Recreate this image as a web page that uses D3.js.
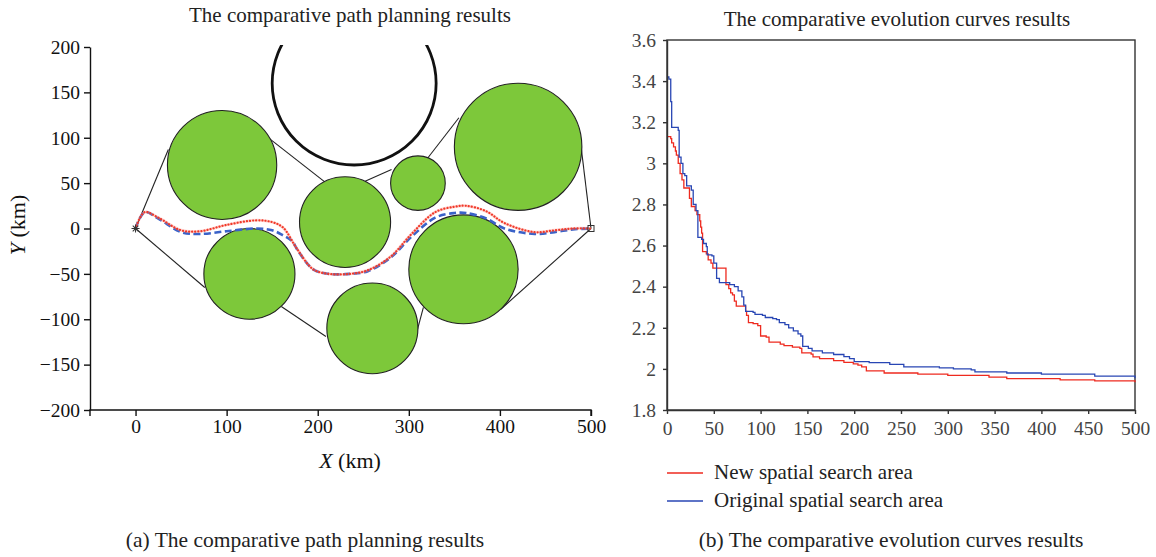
<!DOCTYPE html>
<html><head><meta charset="utf-8">
<script src="https://cdn.jsdelivr.net/npm/d3@7"></script>
<style>
html,body{margin:0;padding:0;background:#fff;}
svg{display:block;font-family:"Liberation Serif","DejaVu Serif",serif;}
</style></head>
<body><svg id="c" width="1156" height="557"></svg>
<script>
// ---------- data: left chart (path planning, km) ----------
const xTicksL = [0,100,200,300,400,500];
const yTicksL = [-200,-150,-100,-50,0,50,100,150,200];
// green threat circles: centre x, centre y, radius
const obstacleX = [95, 230, 310, 420, 125, 360, 260];
const obstacleY = [70, 7, 50, 90, -50, -45, -110];
const obstacleR = [60, 50, 30, 70, 50, 60, 50];
// open (black ring) threat
const ringX = [240], ringY = [160], ringR = [90];
// search-area boundary segments [x1,y1,x2,y2]
const boundary = [
  [0,0,36,87],[147,99,207,52],[252,52,281,65],[321,78,355,122],
  [489,91,500,0],[500,0,401,-89],[316,-87,308,-117],[209,-119,160,-86],[76,-65,0,0]
];
const newPath = [[0,0],[10,18],[25,12],[50,-2],[71,-3],[100,4],[133,9],[150,7],[162,1],[177,-22],[195,-45],[212,-50],[235,-50],[255,-46],[280,-31],[303,-6],[329,18],[350,24],[363,25],[385,19],[405,6],[438,-4],[460,-2],[480,0],[500,0]];
const origPath = [[0,0],[10,18],[25,11],[50,-4],[71,-6],[100,-3],[133,0],[150,-2],[161,-7],[172,-14],[178,-24],[195,-45],[212,-50],[235,-50],[255,-47],[280,-32],[303,-9],[329,12],[350,17],[363,17],[385,11],[405,0],[438,-6],[460,-4],[480,-1],[500,0]];

// ---------- data: right chart (evolution curves) ----------
const xTicksR = [0,50,100,150,200,250,300,350,400,450,500];
const yTicksR = [1.8,2,2.2,2.4,2.6,2.8,3,3.2,3.4,3.6];
const newGen = [0,4,5,7,9,10,12,14,16,18,24,26,30,32,35,36,37,38,42,44,47,49,63,66,68,70,72,74,84,85,87,92,97,100,106,109,121,125,134,142,144,154,156,163,178,189,199,204,208,213,232,268,300,344,363,420,457,500];
const newFit = [3.13,3.12,3.10,3.08,3.06,3.04,3.00,2.95,2.92,2.88,2.83,2.79,2.77,2.75,2.72,2.69,2.66,2.57,2.56,2.53,2.515,2.49,2.41,2.39,2.37,2.36,2.33,2.305,2.28,2.26,2.225,2.22,2.21,2.16,2.155,2.13,2.12,2.113,2.106,2.10,2.078,2.072,2.058,2.05,2.04,2.032,2.024,2.018,2.01,1.99,1.98,1.975,1.968,1.96,1.953,1.947,1.942,1.935];
const origGen = [0,2,4,5,12,13,15,17,19,21,26,28,31,33,37,39,42,43,48,50,53,56,67,72,76,80,82,84,92,94,102,105,113,117,120,126,130,135,140,143,145,151,155,166,178,189,195,200,216,238,253,291,306,325,329,363,400,457,500];
const origFit = [3.42,3.41,3.30,3.175,3.16,3.03,3.00,2.95,2.94,2.89,2.87,2.80,2.77,2.64,2.63,2.61,2.595,2.555,2.55,2.515,2.44,2.42,2.41,2.40,2.38,2.35,2.31,2.28,2.275,2.265,2.26,2.25,2.245,2.24,2.225,2.215,2.20,2.185,2.17,2.16,2.11,2.10,2.088,2.078,2.07,2.06,2.05,2.035,2.03,2.022,2.01,2.005,2.0,1.995,1.985,1.98,1.975,1.965,1.955];
const legendLabels = ["New spatial search area","Original spatial search area"];
const seriesColors = ["#ee2a1f","#2846b4"];

const svg = d3.select("#c");

// ================= LEFT CHART =================
const xL = d3.scaleLinear().domain([-50,500]).range([90,591]);
const yL = d3.scaleLinear().domain([-200,200]).range([410,47]);
const L = svg.append("g");
L.append("defs").append("clipPath").attr("id","clipL")
 .append("rect").attr("x",90).attr("y",45).attr("width",505).attr("height",366);
const plotL = L.append("g").attr("clip-path","url(#clipL)");

plotL.selectAll("line.b").data(boundary).join("line").attr("class","b")
 .attr("x1",d=>xL(d[0])).attr("y1",d=>yL(d[1])).attr("x2",d=>xL(d[2])).attr("y2",d=>yL(d[3]))
 .attr("stroke","#222").attr("stroke-width",1.1);
plotL.selectAll("ellipse.ring").data(ringX).join("ellipse").attr("class","ring")
 .attr("cx",(d,i)=>xL(d)).attr("cy",(d,i)=>yL(ringY[i]))
 .attr("rx",(d,i)=>xL(ringR[i])-xL(0)).attr("ry",(d,i)=>yL(0)-yL(ringR[i]))
 .attr("fill","none").attr("stroke","#111").attr("stroke-width",2.8);
plotL.selectAll("ellipse.ob").data(obstacleX).join("ellipse").attr("class","ob")
 .attr("cx",d=>xL(d)).attr("cy",(d,i)=>yL(obstacleY[i]))
 .attr("rx",(d,i)=>xL(obstacleR[i])-xL(0)).attr("ry",(d,i)=>yL(0)-yL(obstacleR[i]))
 .attr("fill","#7dc83a").attr("stroke","#222").attr("stroke-width",1.1);
const lineL = d3.line().x(d=>xL(d[0])).y(d=>yL(d[1])).curve(d3.curveCatmullRom.alpha(0.5));
plotL.append("path").attr("d",lineL(origPath)).attr("fill","none")
 .attr("stroke","#3a62c8").attr("stroke-width",2.6).attr("stroke-dasharray","7,3.5");
plotL.append("path").attr("d",lineL(newPath)).attr("fill","none")
 .attr("stroke","#ff8a80").attr("stroke-width",3).attr("stroke-opacity",0.35);
plotL.append("path").attr("d",lineL(newPath)).attr("fill","none")
 .attr("stroke","#f03a2a").attr("stroke-width",2.2).attr("stroke-linecap","round").attr("stroke-dasharray","0.1,3");
const sx = xL(newPath[0][0]), sy = yL(newPath[0][1]);
const star = L.append("g").attr("transform",`translate(${sx},${sy})`);
[0,45,90,135].forEach(a=>star.append("line").attr("x1",-4).attr("x2",4).attr("y1",0).attr("y2",0)
  .attr("transform",`rotate(${a})`).attr("stroke","#333").attr("stroke-width",1));
const ex = xL(newPath[newPath.length-1][0]), ey = yL(newPath[newPath.length-1][1]);
L.append("rect").attr("x",ex-3).attr("y",ey-3).attr("width",6).attr("height",6)
 .attr("fill","none").attr("stroke","#333").attr("stroke-width",1);

const axL = L.append("g").attr("transform","translate(90,0)")
 .call(d3.axisLeft(yL).tickValues(yTicksL).tickSize(6).tickSizeOuter(0).tickPadding(4));
const axB = L.append("g").attr("transform","translate(0,410)")
 .call(d3.axisBottom(xL).tickValues(xTicksL).tickSize(6).tickSizeOuter(0).tickPadding(3));
[axL,axB].forEach(a=>{
  a.select(".domain").attr("stroke","#111").attr("stroke-width",1.4);
  a.selectAll(".tick line").attr("stroke","#111").attr("stroke-width",1.4);
  a.selectAll(".tick text").attr("fill","#111").style("font-size","19.5px").style("font-family","Liberation Serif");
});
axB.select(".domain").attr("d","M90,6V0H591V6");
L.append("text").attr("x",350).attr("y",22).attr("text-anchor","middle")
 .style("font-size","21px").attr("fill","#222").text("The comparative path planning results");
const xl = L.append("text").attr("x",350).attr("y",468).attr("text-anchor","middle").style("font-size","22px").attr("fill","#111");
xl.append("tspan").style("font-style","italic").text("X");
xl.append("tspan").text(" (km)");
const yl = L.append("text").attr("transform","translate(25,225) rotate(-90)").attr("text-anchor","middle").style("font-size","22px").attr("fill","#111");
yl.append("tspan").style("font-style","italic").text("Y");
yl.append("tspan").text(" (km)");
L.append("text").attr("x",305).attr("y",547).attr("text-anchor","middle").style("font-size","21.5px").attr("fill","#222")
 .text("(a) The comparative path planning results");

// ================= RIGHT CHART =================
const xR = d3.scaleLinear().domain([0,500]).range([667,1135]);
const yR = d3.scaleLinear().domain([1.8,3.6]).range([410,40]);
const R = svg.append("g");
R.append("rect").attr("x",667).attr("y",40).attr("width",468).attr("height",370)
 .attr("fill","none").attr("stroke","#333").attr("stroke-width",1.4);
const lineR = d3.line().x(d=>xR(d[0])).y(d=>yR(d[1])).curve(d3.curveStepAfter);
const newSeries = newGen.map((g,i)=>[g,newFit[i]]);
const origSeries = origGen.map((g,i)=>[g,origFit[i]]);
R.append("path").attr("d",lineR(newSeries)).attr("fill","none").attr("stroke",seriesColors[0]).attr("stroke-width",1.3);
R.append("path").attr("d",lineR(origSeries)).attr("fill","none").attr("stroke",seriesColors[1]).attr("stroke-width",1.3);
const axRL = R.append("g").attr("transform","translate(667,0)")
 .call(d3.axisLeft(yR).tickValues(yTicksR).tickSize(4).tickSizeOuter(0).tickPadding(7).tickFormat(d=>String(+d.toFixed(1))));
const axRB = R.append("g").attr("transform","translate(0,410)")
 .call(d3.axisBottom(xR).tickValues(xTicksR).tickSize(4).tickSizeOuter(0).tickPadding(7));
[axRL,axRB].forEach(a=>{
  a.select(".domain").attr("stroke","#333").attr("stroke-width",1.4);
  a.selectAll(".tick line").attr("stroke","#333").attr("stroke-width",1.4);
  a.selectAll(".tick text").attr("fill","#444").style("font-size","19.5px").style("font-family","Liberation Serif");
});
R.append("text").attr("x",897).attr("y",26).attr("text-anchor","middle")
 .style("font-size","21px").attr("fill","#222").text("The comparative evolution curves results");
const lg = R.selectAll("g.lg").data(legendLabels).join("g").attr("class","lg")
 .attr("transform",(d,i)=>`translate(667,${473+i*28})`);
lg.append("line").attr("x1",0).attr("x2",36).attr("stroke",(d,i)=>seriesColors[i]).attr("stroke-width",1.3);
lg.append("text").attr("x",47).attr("y",6).style("font-size","21px").attr("fill","#222").text(d=>d);
R.append("text").attr("x",891).attr("y",547).attr("text-anchor","middle").style("font-size","21.5px").attr("fill","#222")
 .text("(b) The comparative evolution curves results");
</script></body></html>
